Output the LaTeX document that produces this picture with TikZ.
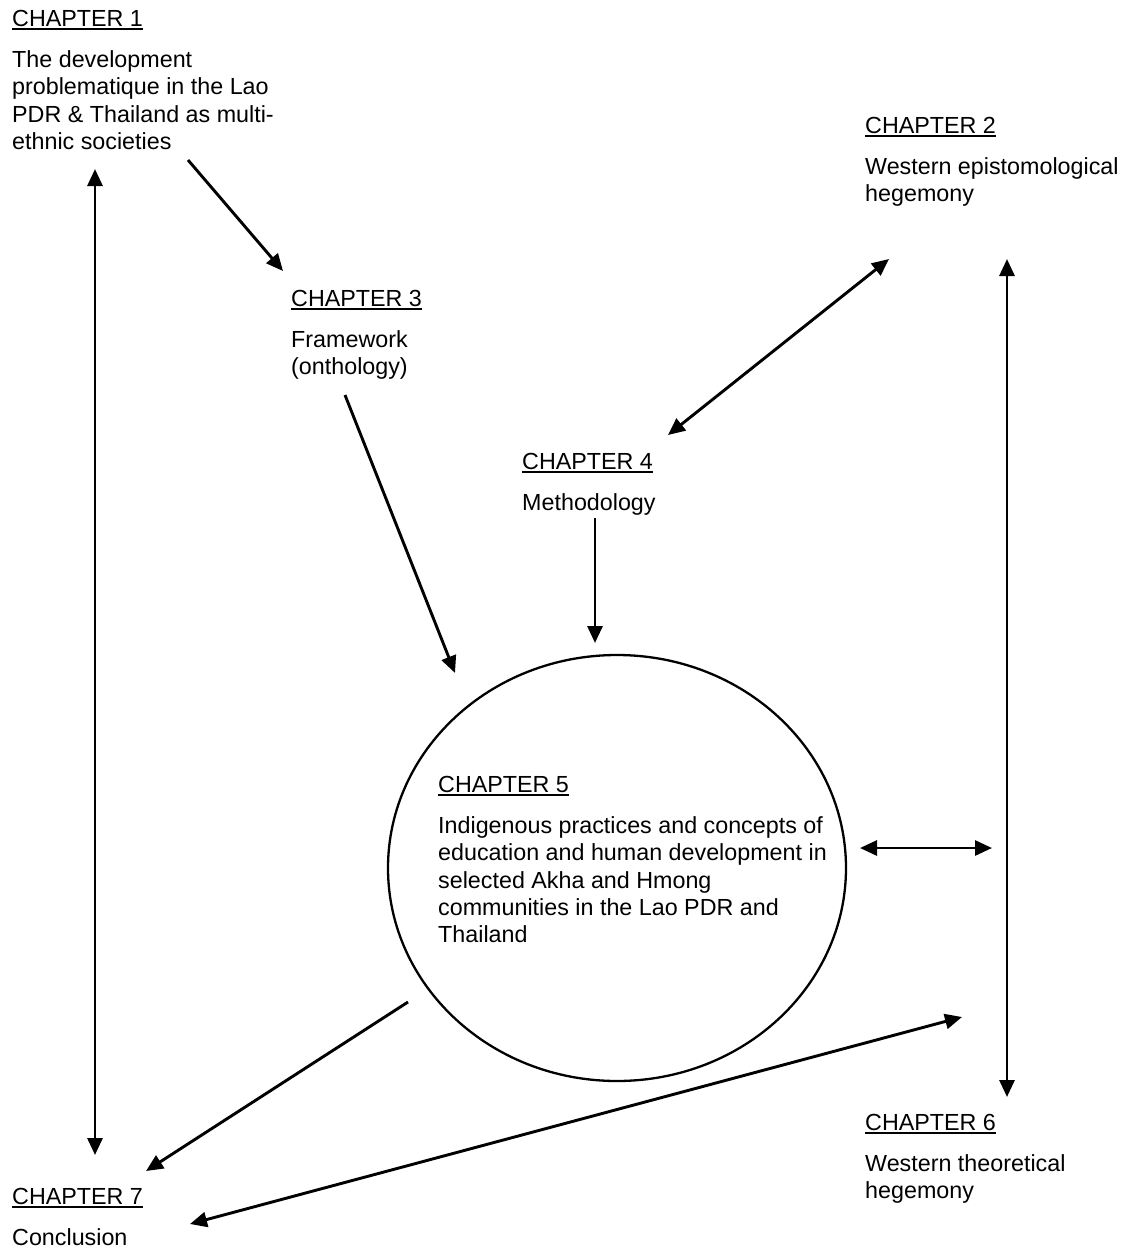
\documentclass[tikz,border=0pt]{standalone}
\usepackage{fontspec}
\setmainfont{Liberation Sans}
\usetikzlibrary{arrows.meta,shapes.geometric}

% underlined chapter heading
\newcommand\chead[1]{\setbox0\hbox{#1}\rlap{\rule[-3.6pt]{\wd0}{1.6pt}}\box0}
% a block: heading, gap, then body lines
\newcommand\chblock[2]{\begin{tabular}[t]{@{}l@{}}\chead{#1}\\[14.2pt]#2\end{tabular}}

\begin{document}
\begin{tikzpicture}[x=1pt,y=-1pt,
  txt/.style={anchor=base west,inner sep=0pt,font=\fontsize{23.3}{27.3}\selectfont},
  link/.style={line width=2.9pt,-{Triangle[length=17pt,width=15pt]}},
  both/.style={line width=2.9pt,{Triangle[length=17pt,width=15pt]}-{Triangle[length=17pt,width=15pt]}}]
\useasboundingbox (0,0) rectangle (1126,1251);

% chapter texts
\node[txt] (ch1) at (12,26) {\chblock{CHAPTER 1}{The development\\ problematique in the Lao\\ PDR \& Thailand as multi-\\ ethnic societies}};
\node[txt] (ch2) at (865,133) {\chblock{CHAPTER 2}{Western epistomological\\ hegemony}};
\node[txt] (ch3) at (291,306) {\chblock{CHAPTER 3}{Framework\\ (onthology)}};
\node[txt] (ch4) at (522,469) {\chblock{CHAPTER 4}{Methodology}};
\node[txt] (ch6) at (865,1130) {\chblock{CHAPTER 6}{Western theoretical\\ hegemony}};
\node[txt] (ch7) at (12,1204) {\chblock{CHAPTER 7}{Conclusion}};

% central chapter
\node[draw,ellipse,line width=2.3pt,minimum width=458pt,minimum height=426pt,inner sep=0pt] (ring) at (617,868) {};
\node[txt] (ch5) at (438,792) {\chblock{CHAPTER 5}{Indigenous practices and concepts of\\ education and human development in\\ selected Akha and Hmong\\ communities in the Lao PDR and\\ Thailand}};

% connector ends
\coordinate (a1) at (95,169);   \coordinate (a2) at (95,1155);
\coordinate (b1) at (188,160);  \coordinate (b2) at (283,271);
\coordinate (c1) at (345,395);  \coordinate (c2) at (455,673);
\coordinate (d1) at (595,518);  \coordinate (d2) at (595,643);
\coordinate (e1) at (889,259);  \coordinate (e2) at (668,435);
\coordinate (f1) at (860,848);  \coordinate (f2) at (992,848);
\coordinate (g1) at (1007,259); \coordinate (g2) at (1007,1097);
\coordinate (h1) at (408,1002); \coordinate (h2) at (146,1171);
\coordinate (k1) at (190,1224); \coordinate (k2) at (962,1017);

% connectors
\draw[both] (a1) -- (a2);
\draw[link] (b1) -- (b2);
\draw[link] (c1) -- (c2);
\draw[link] (d1) -- (d2);
\draw[both] (e1) -- (e2);
\draw[both] (f1) -- (f2);
\draw[both] (g1) -- (g2);
\draw[link] (h1) -- (h2);
\draw[both] (k1) -- (k2);
\end{tikzpicture}
\end{document}
